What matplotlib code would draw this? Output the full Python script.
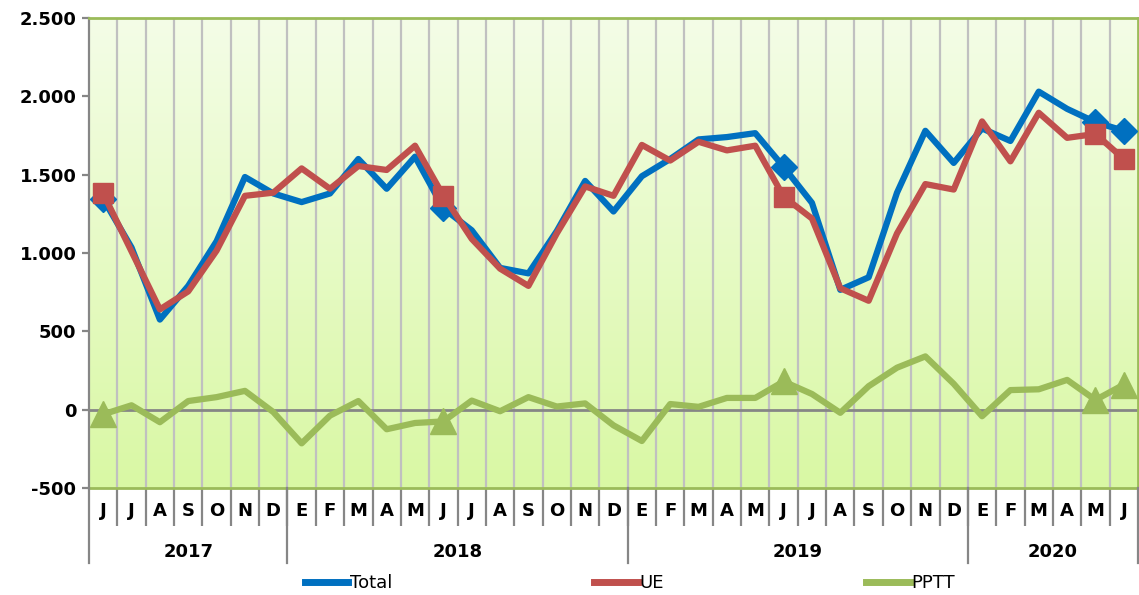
import numpy as np
import matplotlib.pyplot as plt
from matplotlib.lines import Line2D
from matplotlib.colors import LinearSegmentedColormap
from matplotlib.ticker import FuncFormatter

# Month letters (Spanish initials), June 2017 .. June 2020
months = ['J', 'J', 'A', 'S', 'O', 'N', 'D'] + \
         ['E', 'F', 'M', 'A', 'M', 'J', 'J', 'A', 'S', 'O', 'N', 'D'] * 2 + \
         ['E', 'F', 'M', 'A', 'M', 'J']
years = ['2017', '2018', '2019', '2020']
year_counts = [7, 12, 12, 6]

total = [1345, 1035, 575, 790, 1075, 1485, 1380, 1325, 1380, 1600, 1410, 1615,
         1285, 1145, 905, 870, 1140, 1460, 1265, 1490, 1600, 1725, 1740, 1765,
         1550, 1320, 765, 845, 1385, 1780, 1575, 1795, 1715, 2030, 1920, 1835, 1780]
ue = [1380, 1010, 640, 755, 1015, 1365, 1385, 1540, 1410, 1555, 1530, 1685,
      1365, 1090, 900, 790, 1125, 1425, 1365, 1690, 1590, 1710, 1655, 1685,
      1360, 1220, 775, 695, 1125, 1440, 1405, 1840, 1585, 1895, 1735, 1760, 1600]
pptt = [-30, 28, -80, 55, 80, 120, -15, -215, -38, 55, -125, -85,
        -75, 58, -10, 80, 20, 40, -100, -200, 36, 18, 75, 75,
        180, 100, -20, 150, 268, 340, 165, -42, 125, 130, 190, 62, 160]
marked = [0, 12, 24, 35, 36]

c_total = '#0070c0'
c_ue = '#c0504d'
c_pptt = '#9bbb59'
grey = '#868686'

fig = plt.figure(figsize=(11.39, 5.95), dpi=100)
ax = fig.add_axes([89 / 1139, 1 - 488 / 595, 1049 / 1139, 470 / 595])

n = len(months)
x = np.arange(n)

# background gradient
cmap = LinearSegmentedColormap.from_list('bg', ['#f4fde7', '#d9f8a4'])
ax.imshow(np.linspace(0, 1, 256).reshape(-1, 1), extent=[0, 1, 0, 1],
          transform=ax.transAxes, cmap=cmap, aspect='auto', zorder=0)
ax.set_xlim(-0.5, n - 0.5)
ax.set_ylim(-500, 2500)

for b in np.arange(0.5, n - 1, 1):
    ax.axvline(b, color='#c0c0c0', lw=1.6, zorder=1)
ax.axhline(0, color=grey, lw=2, zorder=1.5)

ax.plot(x, total, color=c_total, lw=4.5, marker='D', ms=13.5, markevery=marked, zorder=3)
ax.plot(x, ue, color=c_ue, lw=4.5, marker='s', ms=15, markevery=marked, zorder=4)
ax.plot(x, pptt, color=c_pptt, lw=4.5, marker='^', ms=19, markevery=marked, zorder=5)

# spines
for s in ['top', 'right', 'bottom']:
    ax.spines[s].set_color(c_pptt)
    ax.spines[s].set_linewidth(2)
ax.spines['left'].set_color(grey)
ax.spines['left'].set_linewidth(1.6)

# y axis
ax.set_yticks(np.arange(-500, 2501, 500))
ax.yaxis.set_major_formatter(FuncFormatter(lambda v, p: f'{int(v):,}'.replace(',', '.')))
ax.tick_params(axis='y', length=5, width=1.6, color=grey, pad=4)
for lab in ax.get_yticklabels():
    lab.set_fontsize(13)
    lab.set_fontweight('bold')

# x axis: month letters, boundary ticks
ax.set_xticks(x)
ax.set_xticklabels(months, fontsize=13, fontweight='bold')
ax.tick_params(axis='x', which='major', length=0, pad=10)
ax.set_xticks(np.arange(0.5, n - 1, 1), minor=True)
ax.tick_params(axis='x', which='minor', length=27, width=1.6, color=grey)

# year separators and labels
xt = ax.get_xaxis_transform()
edges = np.concatenate([[0], np.cumsum(year_counts)]) - 0.5
for e in edges:
    ax.plot([e, e], [0, -0.16], transform=xt, color=grey, lw=1.6, clip_on=False, zorder=6)
for i, yr in enumerate(years):
    ax.text((edges[i] + edges[i + 1]) / 2, -0.137, yr, transform=xt, ha='center', va='center',
            fontsize=13, fontweight='bold')

# legend
handles = [Line2D([], [], color=c_total, lw=5),
           Line2D([], [], color=c_ue, lw=5),
           Line2D([], [], color=c_pptt, lw=5)]
fig.legend(handles, ['Total', 'UE', 'PPTT'], loc='center', bbox_to_anchor=(0.553, 1 - 583 / 595),
           ncol=3, frameon=False, fontsize=13, handlelength=2.4, handletextpad=0.1,
           columnspacing=11.2)

fig.savefig('out.png', dpi=100)
plt.close()
